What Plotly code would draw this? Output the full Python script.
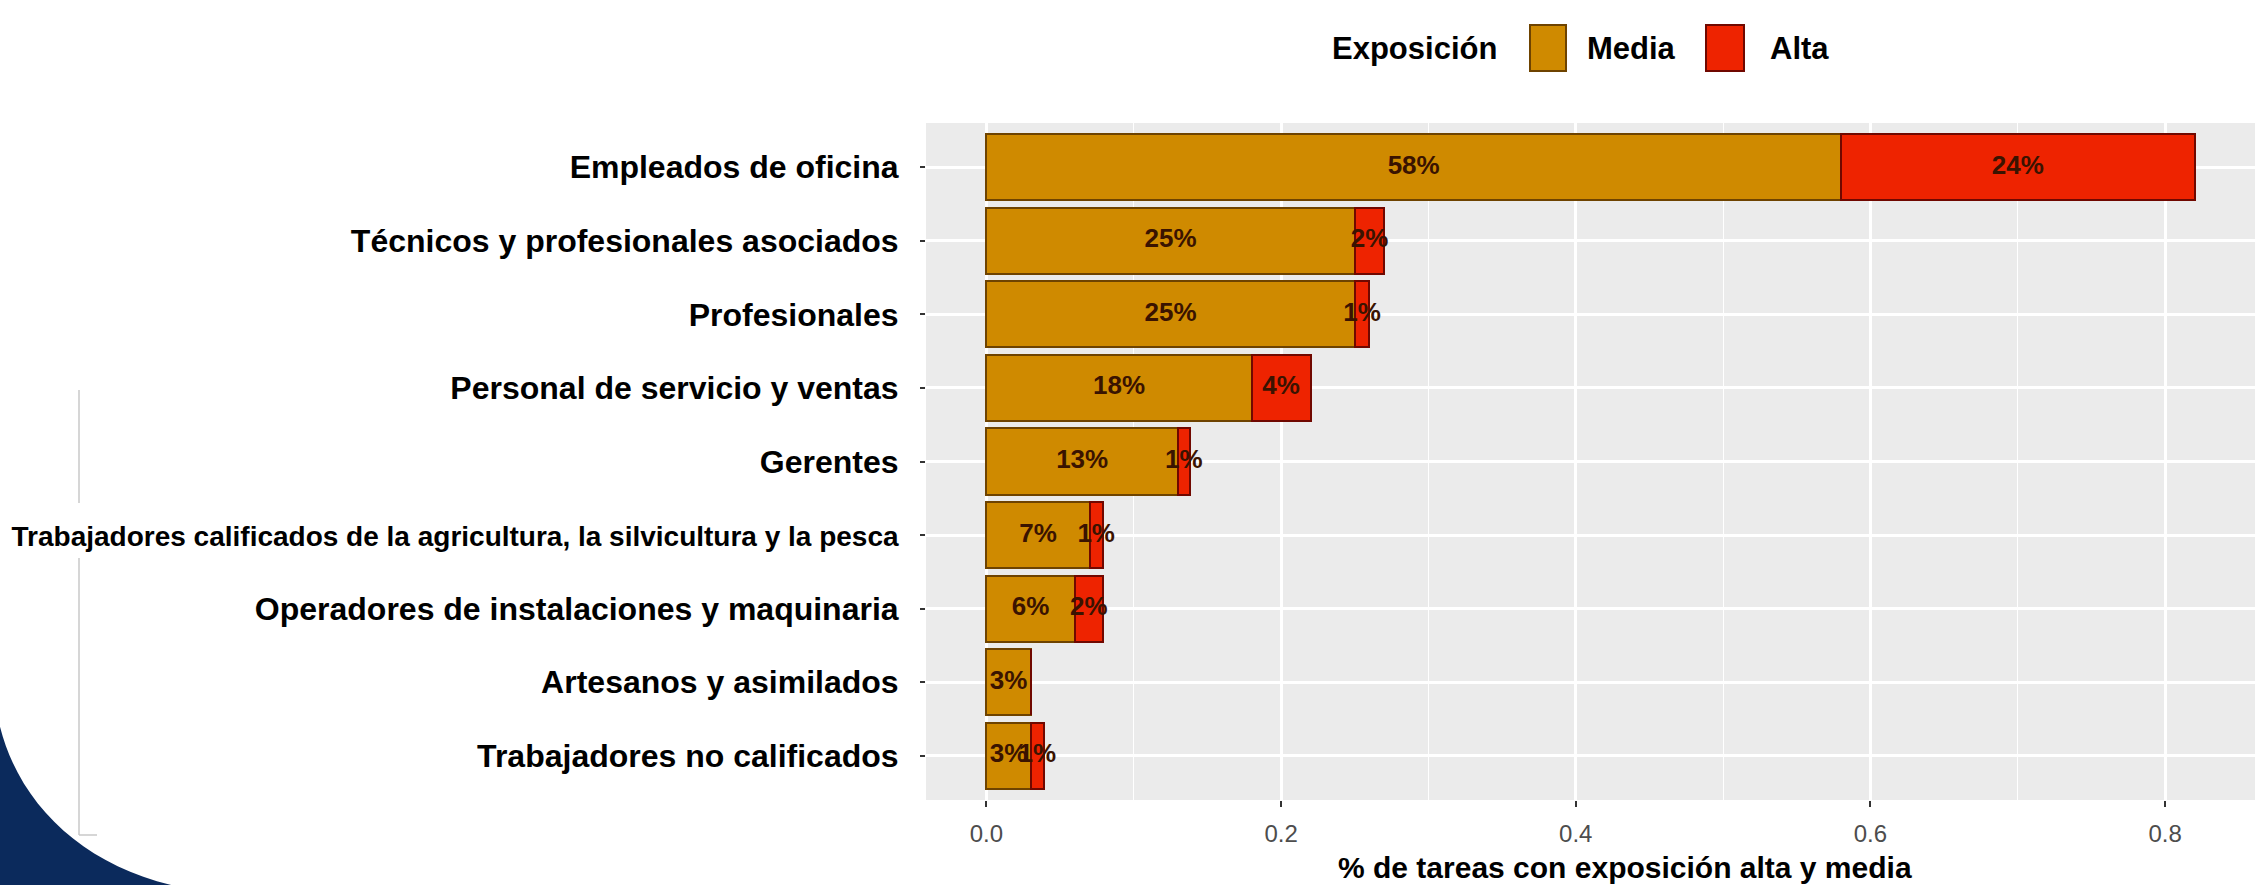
import plotly.graph_objects as go

# ---------------- data ----------------
categories = [
    "Empleados de oficina",
    "Técnicos y profesionales asociados",
    "Profesionales",
    "Personal de servicio y ventas",
    "Gerentes",
    "Trabajadores calificados de la agricultura, la silvicultura y la pesca",
    "Operadores de instalaciones y maquinaria",
    "Artesanos y asimilados",
    "Trabajadores no calificados",
]
media = [0.58, 0.25, 0.25, 0.18, 0.13, 0.07, 0.06, 0.03, 0.03]
alta = [0.24, 0.02, 0.01, 0.04, 0.008, 0.009, 0.019, 0.0, 0.009]
x_ticks = [0.0, 0.2, 0.4, 0.6, 0.8]
x_tick_labels = ["0.0", "0.2", "0.4", "0.6", "0.8"]
legend_title = "Exposición"
series_names = ["Media", "Alta"]
x_title = "% de tareas con exposición alta y media"

# ---------------- styling ----------------
W, H = 2262, 885
L, R, T, B = 926, 7, 123, 85
PW, PH = W - L - R, H - T - B
FONT = "Liberation Sans, Arial, Helvetica, sans-serif"
C_MEDIA, C_ALTA = "#CF8A00", "#EE2300"
LC_MEDIA, LC_ALTA = "#6E4300", "#700800"
TXT = "#3A1300"


def px2paper(px, py):
    return (px - L) / PW, (T + PH - py) / PH


fig = go.Figure()
fig.add_trace(go.Bar(
    y=categories, x=media, orientation="h", name=series_names[0],
    marker=dict(color=C_MEDIA, line=dict(color=LC_MEDIA, width=2)),
    showlegend=False, hoverinfo="x+y",
))
fig.add_trace(go.Bar(
    y=categories, x=alta, orientation="h", name=series_names[1],
    marker=dict(color=C_ALTA, line=dict(color=LC_ALTA, width=2)),
    showlegend=False, hoverinfo="x+y",
))

# labels centred in each stacked segment
lab_x, lab_y, lab_t = [], [], []
for c, m, a in zip(categories, media, alta):
    lab_x.append(m / 2); lab_y.append(c); lab_t.append(f"{round(m * 100)}%")
    if a > 0:
        lab_x.append(m + a / 2); lab_y.append(c); lab_t.append(f"{round(a * 100)}%")
fig.add_trace(go.Scatter(
    x=lab_x, y=lab_y, text=lab_t, mode="text", showlegend=False,
    textfont=dict(family=FONT, size=26, color=TXT, weight="bold"),
    hoverinfo="skip", cliponaxis=False,
))

ticktext = []
for c in categories:
    if len(c) > 50:
        ticktext.append(f"<span style='font-size:28px'>{c}</span>")
    else:
        ticktext.append(c)

fig.update_layout(
    width=W, height=H,
    margin=dict(l=L, r=R, t=T, b=B, autoexpand=False),
    paper_bgcolor="white", plot_bgcolor="#EBEBEB",
    barmode="stack", bargap=0.1,
    font=dict(family=FONT),
    xaxis=dict(
        range=[-0.041, 0.861], tickvals=x_ticks, ticktext=x_tick_labels,
        showgrid=True, gridcolor="white", gridwidth=2.5,
        minor=dict(dtick=0.1, showgrid=True, gridcolor="white", gridwidth=1.2, tick0=0),
        zeroline=False, ticks="outside", ticklen=6, tickwidth=2, tickcolor="#333333",
        tickfont=dict(family=FONT, size=24, color="#4D4D4D"), ticklabelstandoff=6,
        showline=False,
    ),
    yaxis=dict(
        type="category", categoryorder="array", categoryarray=categories,
        range=[len(categories) - 0.4, -0.6],
        tickmode="array", tickvals=categories, ticktext=ticktext,
        showgrid=True, gridcolor="white", gridwidth=2.5,
        ticks="outside", ticklen=5, tickwidth=2, tickcolor="#333333",
        tickfont=dict(family=FONT, size=32, color="black", weight="bold"),
        ticklabelstandoff=15, showline=False, zeroline=False,
    ),
)

shapes = []
annotations = []

# x-axis title (placed slightly right of panel centre, as in the source)
tx0, ty0 = px2paper(1625, 867)
annotations.append(dict(x=tx0, y=ty0, xref="paper", yref="paper", text=x_title,
                        showarrow=False, xanchor="center", yanchor="middle",
                        font=dict(family=FONT, size=30, color="black", weight="bold")))

# ---------------- manual legend ----------------
lx, ly = px2paper(1330, 48)
annotations.append(dict(x=lx, y=ly, xref="paper", yref="paper", text=legend_title,
                        showarrow=False, xanchor="left", yanchor="middle",
                        font=dict(family=FONT, size=31, color="black", weight="bold")))
swatches = [(1530, 1566, C_MEDIA, LC_MEDIA, 1585), (1706, 1744, C_ALTA, LC_ALTA, 1768)]
for (x0, x1, col, lcol, tx), name in zip(swatches, series_names):
    a0, b0 = px2paper(x0, 71)
    a1, b1 = px2paper(x1, 25)
    shapes.append(dict(type="rect", xref="paper", yref="paper", x0=a0, x1=a1, y0=b0, y1=b1,
                       fillcolor=col, line=dict(color=lcol, width=2)))
    tx_, ty_ = px2paper(tx, 48)
    annotations.append(dict(x=tx_, y=ty_, xref="paper", yref="paper", text=name,
                            showarrow=False, xanchor="left", yanchor="middle",
                            font=dict(family=FONT, size=31, color="black", weight="bold")))

# ---------------- page decoration (bottom-left blue swoosh, grey frame line) ----------------
p = [px2paper(*q) for q in [(-2, 718), (15, 800), (80, 866), (180, 887), (-2, 887)]]
path = (f"M {p[0][0]},{p[0][1]} C {p[1][0]},{p[1][1]} {p[2][0]},{p[2][1]} {p[3][0]},{p[3][1]} "
        f"L {p[4][0]},{p[4][1]} Z")
shapes.append(dict(type="path", xref="paper", yref="paper", path=path,
                   fillcolor="#0B2A5C", line=dict(width=0), layer="above"))
for (xa, ya, xb, yb) in [(79, 390, 79, 503), (79, 558, 79, 835), (79, 835, 97, 835)]:
    a0, b0 = px2paper(xa, ya)
    a1, b1 = px2paper(xb, yb)
    shapes.append(dict(type="line", xref="paper", yref="paper", x0=a0, y0=b0, x1=a1, y1=b1,
                       line=dict(color="#C8C8C8", width=1.5)))

fig.update_layout(shapes=shapes, annotations=annotations)
fig.write_html(
    "out.html",
    config={"displayModeBar": False},
    post_script="document.body.style.margin='0';document.body.style.overflow='hidden';",
)
